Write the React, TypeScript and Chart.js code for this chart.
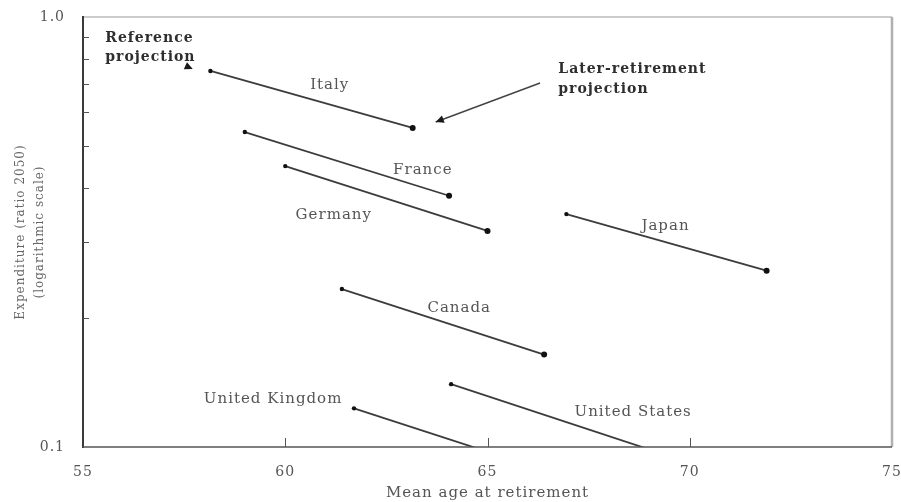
import React, { useEffect, useRef } from "react";
import { Chart, registerables } from "chart.js";
Chart.register(...registerables);

// Countries: reference projection vs later-retirement projection
const countries = ["Italy", "France", "Germany", "Japan", "Canada", "United States", "United Kingdom"];
const refAge = [58.15, 59.0, 60.0, 66.95, 61.4, 64.1, 61.7];
const refExp = [0.749, 0.54, 0.45, 0.348, 0.233, 0.14, 0.123];
const laterAge = [63.15, 64.05, 65.0, 71.9, 66.4, 69.1, 66.7];
const laterExp = [0.552, 0.384, 0.318, 0.257, 0.164, 0.098, 0.0865];

// label anchors (data units)
const labelAge = [61.1, 63.4, 61.2, 69.4, 64.3, 68.6, 59.7];
const labelExp = [0.695, 0.441, 0.346, 0.327, 0.2105, 0.1206, 0.1293];

const xTicks = [55, 60, 65, 70, 75];
const yTicks = [0.1, 0.2, 0.3, 0.4, 0.5, 0.6, 0.7, 0.8, 0.9, 1.0];
const yLabelled = [0.1, 1.0];

const refNote = ["Reference", "projection"];
const refNoteAt = [55.55, 0.89];
const refArrowAt = [57.64, 0.761];
const laterNote = ["Later-retirement", "projection"];
const laterNoteAt = [66.75, 0.755];
const laterArrowFrom = [66.3, 0.702];
const laterArrowTo = [63.72, 0.57];

const SERIF = "'DejaVu Serif', serif";

function arrowHead(ctx: CanvasRenderingContext2D, x1: number, y1: number, x2: number, y2: number, size: number) {
  const a = Math.atan2(y2 - y1, x2 - x1);
  ctx.beginPath();
  ctx.moveTo(x2, y2);
  ctx.lineTo(x2 - size * Math.cos(a - 0.45), y2 - size * Math.sin(a - 0.45));
  ctx.lineTo(x2 - size * Math.cos(a + 0.45), y2 - size * Math.sin(a + 0.45));
  ctx.closePath();
  ctx.fill();
}

const overlay = {
  id: "overlay",
  beforeDraw(chart: any) {
    (chart.ctx as any).letterSpacing = "1px";
  },
  afterDatasetsDraw(chart: any) {
    const { ctx, chartArea: a, scales } = chart;
    const xs = scales.x;
    const ys = scales.y;
    ctx.save();
    (ctx as any).letterSpacing = "1px";
    // frame
    ctx.lineCap = "butt";
    ctx.strokeStyle = "#9a9a9a";
    ctx.lineWidth = 1.2;
    ctx.beginPath();
    ctx.moveTo(a.left, a.top);
    ctx.lineTo(a.right, a.top);
    ctx.stroke();
    ctx.strokeStyle = "#b0b0b0";
    ctx.lineWidth = 2.5;
    ctx.beginPath();
    ctx.moveTo(a.right, a.top);
    ctx.lineTo(a.right, a.bottom);
    ctx.stroke();
    ctx.strokeStyle = "#3a3a3a";
    ctx.lineWidth = 2;
    ctx.beginPath();
    ctx.moveTo(a.left, a.top - 1);
    ctx.lineTo(a.left, a.bottom + 1);
    ctx.stroke();
    ctx.strokeStyle = "#555";
    ctx.lineWidth = 1.5;
    ctx.beginPath();
    ctx.moveTo(a.left, a.bottom);
    ctx.lineTo(a.right, a.bottom);
    ctx.stroke();
    // inner ticks
    ctx.strokeStyle = "#555";
    ctx.lineWidth = 1;
    yTicks.forEach((v) => {
      if (yLabelled.includes(v)) return;
      const py = Math.round(ys.getPixelForValue(v)) + 0.5;
      ctx.beginPath();
      ctx.moveTo(a.left, py);
      ctx.lineTo(a.left + 6, py);
      ctx.stroke();
    });
    xTicks.forEach((v, i) => {
      if (i === 0 || i === xTicks.length - 1) return;
      const px = Math.round(xs.getPixelForValue(v)) + 0.5;
      ctx.beginPath();
      ctx.moveTo(px, a.bottom);
      ctx.lineTo(px, a.bottom - 9);
      ctx.stroke();
    });
    // country labels
    ctx.fillStyle = "#555";
    ctx.font = `15px ${SERIF}`;
    ctx.textAlign = "center";
    ctx.textBaseline = "middle";
    countries.forEach((c, i) => {
      ctx.fillText(c, xs.getPixelForValue(labelAge[i]), ys.getPixelForValue(labelExp[i]));
    });
    // notes
    ctx.fillStyle = "#2e2e2e";
    ctx.font = `bold 14px ${SERIF}`;
    ctx.textAlign = "left";
    const rx = xs.getPixelForValue(refNoteAt[0]);
    const ry = ys.getPixelForValue(refNoteAt[1]);
    refNote.forEach((t, k) => ctx.fillText(t, rx, ry + k * 19));
    const lx = xs.getPixelForValue(laterNoteAt[0]);
    const ly = ys.getPixelForValue(laterNoteAt[1]);
    laterNote.forEach((t, k) => ctx.fillText(t, lx, ly + k * 20));
    // arrows
    ctx.fillStyle = "#1a1a1a";
    ctx.strokeStyle = "#444";
    ctx.lineWidth = 1.5;
    const ax1 = xs.getPixelForValue(laterArrowFrom[0]);
    const ay1 = ys.getPixelForValue(laterArrowFrom[1]);
    const ax2 = xs.getPixelForValue(laterArrowTo[0]);
    const ay2 = ys.getPixelForValue(laterArrowTo[1]);
    ctx.beginPath();
    ctx.moveTo(ax1, ay1);
    ctx.lineTo(ax2, ay2);
    ctx.stroke();
    arrowHead(ctx, ax1, ay1, ax2, ay2, 9);
    const tx = xs.getPixelForValue(refArrowAt[0]);
    const ty = ys.getPixelForValue(refArrowAt[1]);
    arrowHead(ctx, tx - 6, ty - 3, tx + 3, ty + 1, 9);
    ctx.restore();
  },
};

export default function App() {
  const ref = useRef<HTMLCanvasElement | null>(null);
  useEffect(() => {
    document.body.style.margin = "0";
    const canvas = ref.current!;
    const datasets = countries.map((c, i) => ({
      label: c,
      data: [
        { x: refAge[i], y: refExp[i] },
        { x: laterAge[i], y: laterExp[i] },
      ],
      showLine: true,
      borderColor: "#3c3c3c",
      borderWidth: 1.8,
      pointRadius: [2.2, 3],
      pointBackgroundColor: "#111",
      pointBorderColor: "#111",
      pointBorderWidth: 0,
      clip: 0,
    }));
    const chart = new Chart(canvas, {
      type: "scatter",
      data: { datasets } as any,
      options: {
        animation: false,
        responsive: false,
        devicePixelRatio: 1,
        layout: { padding: { top: 17, right: 9, left: 0, bottom: 0 } },
        plugins: { legend: { display: false }, tooltip: { enabled: false } },
        scales: {
          x: {
            type: "linear",
            min: 55,
            max: 75,
            afterBuildTicks: (s: any) => {
              s.ticks = xTicks.map((v) => ({ value: v }));
            },
            afterFit: (s: any) => {
              s.height = 55;
              s.paddingLeft = 0;
              s.paddingRight = 0;
            },
            grid: { display: false },
            border: { display: false },
            ticks: {
              color: "#555",
              font: { family: SERIF, size: 14 },
              padding: 9,
              maxRotation: 0,
              callback: (v: any) => String(v),
            },
            title: {
              display: true,
              text: "Mean age at retirement",
              color: "#555",
              font: { family: SERIF, size: 15 },
              padding: { top: 0, bottom: 0 },
            },
          },
          y: {
            type: "logarithmic",
            min: 0.1,
            max: 1.0,
            afterBuildTicks: (s: any) => {
              s.ticks = yTicks.map((v) => ({ value: v }));
            },
            afterFit: (s: any) => {
              s.width = 83;
              s.paddingTop = 0;
              s.paddingBottom = 0;
            },
            grid: { display: false },
            border: { display: false },
            ticks: {
              color: "#555",
              font: { family: SERIF, size: 14 },
              padding: 10,
              autoSkip: false,
              callback: (v: any) => (yLabelled.includes(Number(v)) ? Number(v).toFixed(1) : ""),
            },
            title: {
              display: true,
              text: ["Expenditure (ratio 2050)", "(logarithmic scale)"],
              color: "#666",
              font: { family: SERIF, size: 12, lineHeight: 1.6 },
              padding: { top: 11, bottom: 0 },
            },
          },
        },
      },
      plugins: [overlay],
    } as any);
    return () => chart.destroy();
  }, []);
  return (
    <div style={{ width: 901, height: 502, background: "#fff" }}>
      <canvas ref={ref} width={901} height={502} style={{ display: "block" }} />
    </div>
  );
}
